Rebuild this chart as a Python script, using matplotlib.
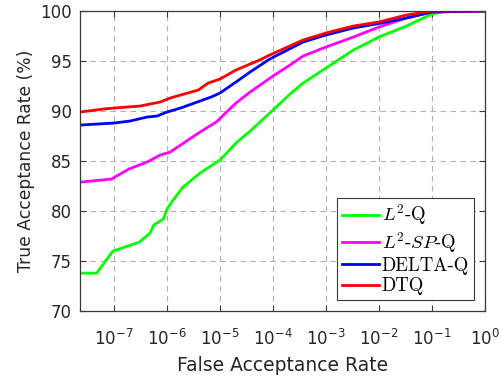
import matplotlib
matplotlib.use("Agg")
import matplotlib.pyplot as plt
from matplotlib.font_manager import FontProperties
from matplotlib.ticker import FixedLocator, FixedFormatter

plt.rcParams['font.family'] = ['DejaVu Sans']
plt.rcParams['mathtext.fontset'] = 'dejavusans'

labels = [r'$L^2$-Q', r'$L^2$-$SP$-Q', 'DELTA-Q', 'DTQ']
colors = ['#00ff00', '#ff00ff', '#0000ff', '#ff0000']

far_l2 = [2.3e-8, 4.7e-8, 9.5e-8, 3.0e-7, 4.8e-7, 5.6e-7, 8.5e-7, 1e-6, 1.3e-6, 2.0e-6,
          4.2e-6, 1e-5, 2e-5, 3.7e-5, 1e-4, 2.1e-4, 3.7e-4, 1e-3, 3.3e-3, 1e-2,
          3.3e-2, 0.1, 0.19, 1.0]
tar_l2 = [73.8, 73.8, 76.0, 76.9, 77.8, 78.6, 79.2, 80.2, 81.1, 82.4,
          83.8, 85.1, 86.8, 88.0, 90.1, 91.7, 92.8, 94.3, 96.1, 97.4,
          98.5, 99.7, 100.0, 100.0]

far_l2sp = [2.3e-8, 8.9e-8, 1.9e-7, 4.2e-7, 7.4e-7, 1.15e-6, 1.8e-6, 4.2e-6, 8.5e-6, 2e-5,
            3.7e-5, 1e-4, 2.1e-4, 3.7e-4, 1e-3, 3.3e-3, 1e-2, 3.3e-2, 0.1, 1.0]
tar_l2sp = [82.9, 83.2, 84.2, 84.9, 85.6, 85.9, 86.6, 87.9, 88.9, 90.8,
            91.9, 93.5, 94.6, 95.5, 96.4, 97.4, 98.4, 99.3, 99.9, 100.0]

far_delta = [2.3e-8, 1e-7, 2e-7, 4.2e-7, 6.5e-7, 1e-6, 1.8e-6, 6.8e-6, 1e-5, 2e-5,
             3.7e-5, 8.7e-5, 3.7e-4, 1e-3, 3.3e-3, 1e-2, 3.3e-2, 0.1, 1.0]
tar_delta = [88.6, 88.8, 89.0, 89.4, 89.5, 89.9, 90.3, 91.4, 91.8, 92.9,
             93.9, 95.2, 96.9, 97.6, 98.3, 98.75, 99.3, 99.9, 100.0]

far_dtq = [2.3e-8, 6.3e-8, 1e-7, 3.1e-7, 7.4e-7, 1.15e-6, 1.8e-6, 3.9e-6, 6e-6, 1e-5,
           2e-5, 5.6e-5, 8.7e-5, 3.7e-4, 1e-3, 3.3e-3, 1e-2, 3.3e-2, 0.1, 1.0]
tar_dtq = [89.9, 90.2, 90.3, 90.5, 90.9, 91.3, 91.6, 92.1, 92.8, 93.2,
           94.1, 95.1, 95.6, 97.1, 97.8, 98.5, 98.9, 99.6, 100.0, 100.0]

xticks = [1e-7, 1e-6, 1e-5, 1e-4, 1e-3, 1e-2, 1e-1, 1e0]
xticklabels = [r'$10^{-7}$', r'$10^{-6}$', r'$10^{-5}$', r'$10^{-4}$',
               r'$10^{-3}$', r'$10^{-2}$', r'$10^{-1}$', r'$10^{0}$']
yticks = [70, 75, 80, 85, 90, 95, 100]

fig = plt.figure(figsize=(5.01, 3.79), dpi=100)
ax = fig.add_axes([0.160, 0.179, 0.808, 0.792])

series = [(far_l2, tar_l2), (far_l2sp, tar_l2sp), (far_delta, tar_delta), (far_dtq, tar_dtq)]
for (f, t), lab, c in zip(series, labels, colors):
    ax.plot(f, t, color=c, lw=2.0, label=lab, solid_joinstyle='round')

ax.set_xscale('log')
ax.set_xlim(2.3e-8, 1.0)
ax.set_ylim(70, 100)
ax.xaxis.set_major_locator(FixedLocator(xticks))
ax.xaxis.set_major_formatter(FixedFormatter(xticklabels))
ax.xaxis.set_minor_locator(FixedLocator([]))
ax.set_yticks(yticks)

ax.grid(True, which='major', color='#b0b0b0', linestyle=(0, (5, 4)), linewidth=0.8)
for s in ax.spines.values():
    s.set_color('#3a3a3a')
    s.set_linewidth(0.9)
ax.tick_params(axis='both', which='major', direction='in', top=True, right=True,
               length=4, width=0.8, color='#3a3a3a', labelsize=12, labelcolor='#262626')
ax.tick_params(axis='x', pad=13)
ax.tick_params(axis='y', pad=6)

ax.set_xlabel('False Acceptance Rate', fontsize=13.5, color='#262626', labelpad=5)
ax.set_ylabel('True Acceptance Rate (%)', fontsize=12.3, color='#262626', labelpad=4)

lp = FontProperties(family='cmr10', size=13.5, math_fontfamily='cm')
leg = ax.legend(loc='lower right', prop=lp, frameon=True, fancybox=False,
                edgecolor='#3a3a3a', framealpha=1.0, borderpad=0.25, labelspacing=0.12,
                handlelength=2.0, handletextpad=0.15, borderaxespad=0.6)
leg.get_frame().set_linewidth(0.8)

fig.savefig('out.png', dpi=100)
